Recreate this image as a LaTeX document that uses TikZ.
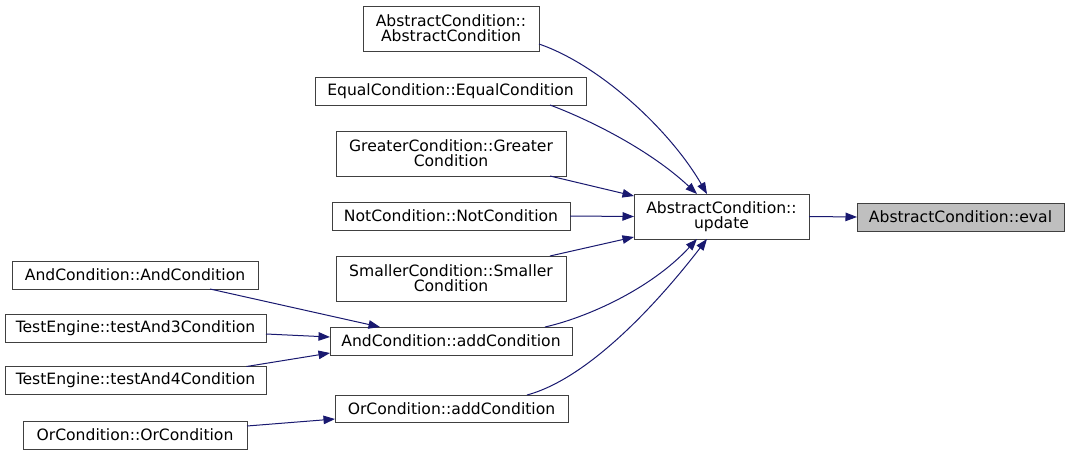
\documentclass[tikz,border=0pt]{standalone}
\usepackage{fontspec}
\setmainfont{DejaVu Sans}
\usetikzlibrary{calc,arrows.meta}
\definecolor{edgeblue}{HTML}{191970}
\definecolor{boxgray}{HTML}{BFBFBF}
\begin{document}
\begin{tikzpicture}[x=1pt,y=-1pt,
  box/.style={draw=black!75,line width=1pt,inner sep=0pt,outer sep=0pt,align=center,
    font=\fontsize{15.6}{15}\selectfont,minimum height=28pt},
  tall/.style={minimum height=45pt},
  edge/.style={draw=edgeblue,line width=1pt,-{Triangle[length=11.5pt,width=8.5pt]}}]
\useasboundingbox (0,0) rectangle (1069,455);
\fill[white] (0,0) rectangle (1069,455);
\node[box,fill=boxgray,minimum width=207pt] (ev) at (960.5,217) {AbstractCondition::eval};
\node[box,tall,minimum width=175pt] (up) at (721.5,216.5) {AbstractCondition::\\update};
\node[box,tall,minimum width=176pt] (ac) at (451,28.5) {AbstractCondition::\\AbstractCondition};
\node[box,minimum width=271pt] (eq) at (450.5,91) {EqualCondition::EqualCondition};
\node[box,tall,minimum width=230pt] (gr) at (451,153.5) {GreaterCondition::Greater\\Condition};
\node[box,minimum width=238pt] (no) at (451,216) {NotCondition::NotCondition};
\node[box,tall,minimum width=230pt] (sm) at (451,278.5) {SmallerCondition::Smaller\\Condition};
\node[box,minimum width=242pt] (aa) at (451,341) {AndCondition::addCondition};
\node[box,minimum width=233pt,minimum height=27pt] (oa) at (451.5,408.5) {OrCondition::addCondition};
\node[box,minimum width=246pt] (anc) at (135,275) {AndCondition::AndCondition};
\node[box,minimum width=261pt] (t3) at (135.5,328.5) {TestEngine::testAnd3Condition};
\node[box,minimum width=261pt] (t4) at (135.5,380.5) {TestEngine::testAnd4Condition};
\node[box,minimum width=224pt] (oc) at (135,435) {OrCondition::OrCondition};

\draw[edge] (up.east) -- (ev.west);
\draw[edge] ($(ac.east)+(0,15.5)$) .. controls (600,65) and (670,130) .. ($(up.north)+(-14.5,0)$);
\draw[edge] ($(eq.south)+(99.5,0)$) .. controls (590,120) and (650,150) .. ($(up.north)+(-24.5,0)$);
\draw[edge] ($(gr.south)+(99,0)$) -- ($(up.west)+(0,-20.5)$);
\draw[edge] (no.east) -- (up.west);
\draw[edge] ($(sm.north)+(99,0)$) -- ($(up.west)+(0,20.5)$);
\draw[edge] ($(aa.north)+(94,0)$) .. controls (585,318) and (650,290) .. ($(up.south)+(-24.5,0)$);
\draw[edge] ($(oa.north)+(75.5,0)$) .. controls (590,378) and (660,300) .. ($(up.south)+(-14.5,0)$);
\draw[edge] ($(anc.south)+(75,0)$) -- ($(aa.north)+(-71,0)$);
\draw[edge] ($(t3.east)+(0,5.5)$) -- ($(aa.west)+(0,-4)$);
\draw[edge] ($(t4.north)+(111,0)$) -- ($(aa.south west)+(0,-2)$);
\draw[edge] ($(oc.east)+(0,-9)$) -- ($(oa.west)+(0,10.5)$);
\end{tikzpicture}
\end{document}
